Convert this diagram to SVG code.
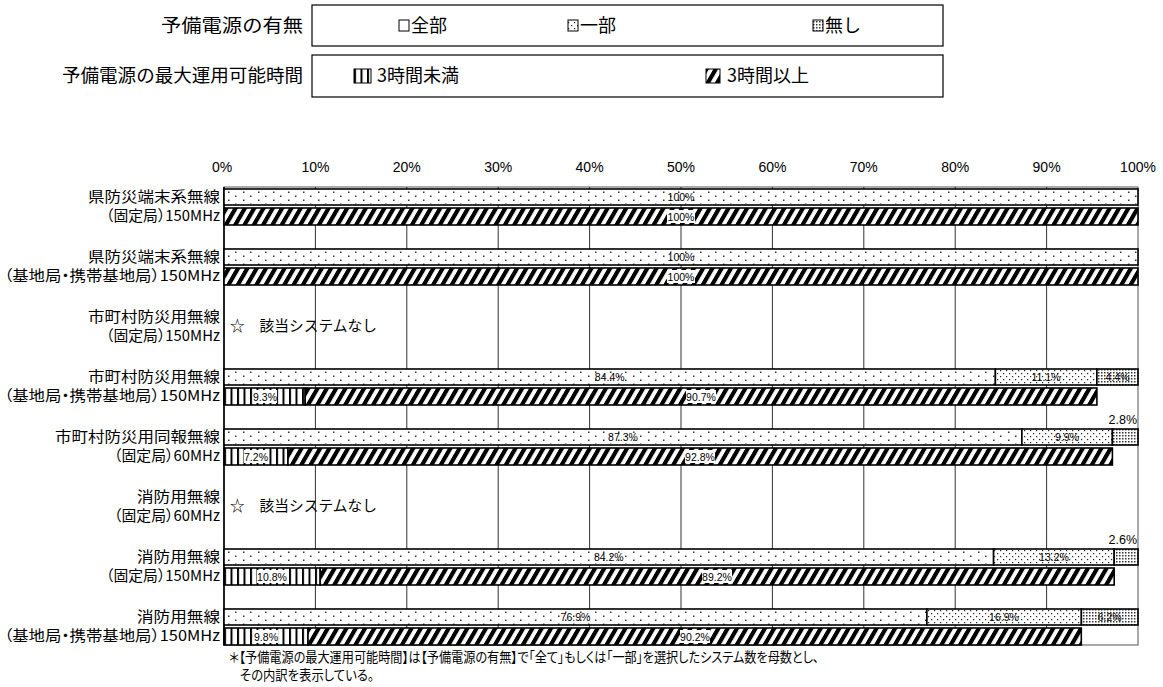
<svg xmlns="http://www.w3.org/2000/svg" width="1163" height="687" viewBox="0 0 1163 687">
<style>
.lbl{font-family:"Noto Sans CJK JP","Liberation Sans",sans-serif;font-size:15px;text-anchor:end;fill:#000;font-feature-settings:"palt"}
.leg{font-family:"Noto Sans CJK JP","Liberation Sans",sans-serif;font-size:18px;fill:#000}
.ax{font-family:"Liberation Sans","Noto Sans CJK JP",sans-serif;font-size:14px;text-anchor:middle;fill:#000}
.pct{font-family:"Liberation Sans",sans-serif;font-size:10.5px;text-anchor:middle;fill:#000}
.out{font-family:"Liberation Sans",sans-serif;font-size:12.5px;text-anchor:end;fill:#000}
.note{font-family:"Noto Sans CJK JP","Liberation Sans",sans-serif;font-size:14px;fill:#000;font-feature-settings:"palt"}
.na{font-family:"Noto Sans CJK JP","Liberation Sans",sans-serif;font-size:15px;fill:#000}
.bar{stroke:#000;stroke-width:1.6}
.grid{stroke:#333;stroke-width:1}
.box{fill:#fff;stroke:#000;stroke-width:1.2}
.bg{fill:#fff}
</style>
<defs>
<pattern id="pAll" patternUnits="userSpaceOnUse" x="0" y="189" width="15" height="8">
<rect width="15" height="8" fill="#fff"/>
<rect x="3" y="2.5" width="1.5" height="1.5" fill="#333"/>
</pattern>
<pattern id="pAll2" patternUnits="userSpaceOnUse" x="7" y="193" width="15" height="8">
<rect x="3" y="2.5" width="1.5" height="1.5" fill="#333"/>
</pattern>
<pattern id="pPart" patternUnits="userSpaceOnUse" width="6" height="6">
<rect width="6" height="6" fill="#fff"/>
<rect x="1" y="1" width="1.2" height="1.2" fill="#222"/>
<rect x="4" y="4" width="1.2" height="1.2" fill="#222"/>
</pattern>
<pattern id="pNone" patternUnits="userSpaceOnUse" width="3" height="3">
<rect width="3" height="3" fill="#fff"/>
<rect x="0" y="0" width="1.5" height="1.5" fill="#333"/>
</pattern>
<pattern id="pUnder" patternUnits="userSpaceOnUse" x="224" width="6.5" height="10">
<rect width="6.5" height="10" fill="#fff"/>
<rect x="0" width="2" height="10" fill="#000"/>
</pattern>
<pattern id="pOver" patternUnits="userSpaceOnUse" width="9.3" height="10" patternTransform="skewX(-30)">
<rect width="9.3" height="10" fill="#fff"/>
<rect x="0" width="4.8" height="10" fill="#000"/>
</pattern>
</defs>

<g id="legend">
<text class="leg" x="303" y="32" text-anchor="end" textLength="142" lengthAdjust="spacingAndGlyphs">予備電源の有無</text>
<rect class="box" x="312" y="5" width="631" height="41"/>
<rect x="399" y="20" width="10" height="11" fill="#fff" stroke="#000" stroke-width="1"/>
<text class="leg" x="411" y="32">全部</text>
<rect x="568" y="20" width="10" height="11" fill="url(#pPart)" stroke="#000" stroke-width="1"/>
<text class="leg" x="580" y="32">一部</text>
<rect x="813" y="20" width="10" height="11" fill="url(#pNone)" stroke="#000" stroke-width="1"/>
<text class="leg" x="825" y="32">無し</text>
<text class="leg" x="303" y="82" text-anchor="end" textLength="241" lengthAdjust="spacingAndGlyphs">予備電源の最大運用可能時間</text>
<rect class="box" x="312" y="55" width="631" height="42"/>
<rect x="354" y="69" width="17" height="14" fill="url(#pUnder)" stroke="#000" stroke-width="1"/>
<text class="leg" x="377" y="82">3時間未満</text>
<rect x="706" y="69" width="14" height="14" fill="url(#pOver)" stroke="#000" stroke-width="1"/>
<text class="leg" x="727" y="82">3時間以上</text>
</g>

<g id="axis">
<text class="ax" x="222" y="172">0%</text>
<text class="ax" x="315.4" y="172">10%</text>
<text class="ax" x="406.8" y="172">20%</text>
<text class="ax" x="498.2" y="172">30%</text>
<text class="ax" x="589.6" y="172">40%</text>
<text class="ax" x="681" y="172">50%</text>
<text class="ax" x="772.4" y="172">60%</text>
<text class="ax" x="863.8" y="172">70%</text>
<text class="ax" x="955.2" y="172">80%</text>
<text class="ax" x="1046.6" y="172">90%</text>
<text class="ax" x="1138" y="172">100%</text>
<rect x="224" y="187" width="914" height="458" fill="#fff" stroke="#555" stroke-width="1"/>
<g class="grid">
<line x1="315.4" y1="187" x2="315.4" y2="645"/>
<line x1="406.8" y1="187" x2="406.8" y2="645"/>
<line x1="498.2" y1="187" x2="498.2" y2="645"/>
<line x1="589.6" y1="187" x2="589.6" y2="645"/>
<line x1="681" y1="187" x2="681" y2="645"/>
<line x1="772.4" y1="187" x2="772.4" y2="645"/>
<line x1="863.8" y1="187" x2="863.8" y2="645"/>
<line x1="955.2" y1="187" x2="955.2" y2="645"/>
<line x1="1046.6" y1="187" x2="1046.6" y2="645"/>
</g>
<line x1="224" y1="187" x2="224" y2="645" stroke="#000" stroke-width="1.6"/>
</g>

<g id="row1">
<text class="lbl" x="220" y="202" textLength="132" lengthAdjust="spacingAndGlyphs">県防災端末系無線</text>
<text class="lbl" x="220" y="221" textLength="114" lengthAdjust="spacingAndGlyphs">（固定局）150MHz</text>
<rect class="bar" x="224" y="189" width="914" height="16" fill="url(#pAll)"/>
<rect x="224" y="189" width="914" height="16" fill="url(#pAll2)"/>
<text class="pct" x="681" y="201">100%</text>
<rect class="bar" x="224" y="208" width="914" height="17" fill="url(#pOver)"/>
<rect class="bg" x="667" y="210" width="28" height="13"/>
<text class="pct" x="681" y="220.5">100%</text>
</g>

<g id="row2">
<text class="lbl" x="220" y="262" textLength="132" lengthAdjust="spacingAndGlyphs">県防災端末系無線</text>
<text class="lbl" x="220" y="281" textLength="216" lengthAdjust="spacingAndGlyphs">（基地局・携帯基地局）150MHz</text>
<rect class="bar" x="224" y="249" width="914" height="16" fill="url(#pAll)"/>
<rect x="224" y="249" width="914" height="16" fill="url(#pAll2)"/>
<text class="pct" x="681" y="261">100%</text>
<rect class="bar" x="224" y="268" width="914" height="17" fill="url(#pOver)"/>
<rect class="bg" x="667" y="270" width="28" height="13"/>
<text class="pct" x="681" y="280.5">100%</text>
</g>

<g id="row3">
<text class="lbl" x="220" y="322" textLength="132" lengthAdjust="spacingAndGlyphs">市町村防災用無線</text>
<text class="lbl" x="220" y="341" textLength="114" lengthAdjust="spacingAndGlyphs">（固定局）150MHz</text>
<text class="na" x="230" y="331" textLength="147" lengthAdjust="spacingAndGlyphs">☆　該当システムなし</text>
</g>

<g id="row4">
<text class="lbl" x="220" y="382" textLength="132" lengthAdjust="spacingAndGlyphs">市町村防災用無線</text>
<text class="lbl" x="220" y="401" textLength="216" lengthAdjust="spacingAndGlyphs">（基地局・携帯基地局）150MHz</text>
<rect class="bar" x="224" y="369" width="771.4" height="16" fill="url(#pAll)"/>
<rect x="224" y="369" width="771.4" height="16" fill="url(#pAll2)"/>
<rect class="bar" x="995.4" y="369" width="101.5" height="16" fill="url(#pPart)"/>
<rect class="bar" x="1096.9" y="369" width="41.1" height="16" fill="url(#pNone)"/>
<text class="pct" x="609.7" y="381">84.4%</text>
<text class="pct" x="1046" y="381">11.1%</text>
<text class="pct" x="1117.5" y="381">4.4%</text>
<rect class="bar" x="224" y="388" width="81.2" height="17" fill="url(#pUnder)"/>
<rect class="bar" x="305.2" y="388" width="791.7" height="17" fill="url(#pOver)"/>
<rect class="bg" x="253" y="390" width="24" height="13"/>
<text class="pct" x="265" y="400.5">9.3%</text>
<rect class="bg" x="686" y="390" width="30" height="13"/>
<text class="pct" x="701" y="400.5">90.7%</text>
</g>

<g id="row5">
<text class="lbl" x="220" y="442" textLength="165" lengthAdjust="spacingAndGlyphs">市町村防災用同報無線</text>
<text class="lbl" x="220" y="461" textLength="106" lengthAdjust="spacingAndGlyphs">（固定局）60MHz</text>
<text class="out" x="1137" y="424">2.8%</text>
<rect class="bar" x="224" y="429" width="797.9" height="16" fill="url(#pAll)"/>
<rect x="224" y="429" width="797.9" height="16" fill="url(#pAll2)"/>
<rect class="bar" x="1021.9" y="429" width="90.5" height="16" fill="url(#pPart)"/>
<rect class="bar" x="1112.4" y="429" width="25.6" height="16" fill="url(#pNone)"/>
<text class="pct" x="623" y="441">87.3%</text>
<text class="pct" x="1067" y="441">9.9%</text>
<rect class="bar" x="224" y="448" width="64" height="17" fill="url(#pUnder)"/>
<rect class="bar" x="288" y="448" width="824.4" height="17" fill="url(#pOver)"/>
<rect class="bg" x="244" y="450" width="24" height="13"/>
<text class="pct" x="256" y="460.5">7.2%</text>
<rect class="bg" x="685" y="450" width="30" height="13"/>
<text class="pct" x="700" y="460.5">92.8%</text>
</g>

<g id="row6">
<text class="lbl" x="220" y="502" textLength="83" lengthAdjust="spacingAndGlyphs">消防用無線</text>
<text class="lbl" x="220" y="521" textLength="106" lengthAdjust="spacingAndGlyphs">（固定局）60MHz</text>
<text class="na" x="230" y="511" textLength="147" lengthAdjust="spacingAndGlyphs">☆　該当システムなし</text>
</g>

<g id="row7">
<text class="lbl" x="220" y="562" textLength="83" lengthAdjust="spacingAndGlyphs">消防用無線</text>
<text class="lbl" x="220" y="581" textLength="114" lengthAdjust="spacingAndGlyphs">（固定局）150MHz</text>
<text class="out" x="1137" y="544">2.6%</text>
<rect class="bar" x="224" y="549" width="769.6" height="16" fill="url(#pAll)"/>
<rect x="224" y="549" width="769.6" height="16" fill="url(#pAll2)"/>
<rect class="bar" x="993.6" y="549" width="120.6" height="16" fill="url(#pPart)"/>
<rect class="bar" x="1114.2" y="549" width="23.8" height="16" fill="url(#pNone)"/>
<text class="pct" x="608.8" y="561">84.2%</text>
<text class="pct" x="1054" y="561">13.2%</text>
<rect class="bar" x="224" y="568" width="96.2" height="17" fill="url(#pUnder)"/>
<rect class="bar" x="320.2" y="568" width="794" height="17" fill="url(#pOver)"/>
<rect class="bg" x="257" y="570" width="30" height="13"/>
<text class="pct" x="272" y="580.5">10.8%</text>
<rect class="bg" x="702" y="570" width="30" height="13"/>
<text class="pct" x="717" y="580.5">89.2%</text>
</g>

<g id="row8">
<text class="lbl" x="220" y="622" textLength="83" lengthAdjust="spacingAndGlyphs">消防用無線</text>
<text class="lbl" x="220" y="641" textLength="216" lengthAdjust="spacingAndGlyphs">（基地局・携帯基地局）150MHz</text>
<rect class="bar" x="224" y="609" width="702.9" height="16" fill="url(#pAll)"/>
<rect x="224" y="609" width="702.9" height="16" fill="url(#pAll2)"/>
<rect class="bar" x="926.9" y="609" width="154.5" height="16" fill="url(#pPart)"/>
<rect class="bar" x="1081.4" y="609" width="56.6" height="16" fill="url(#pNone)"/>
<text class="pct" x="575.5" y="621">76.9%</text>
<text class="pct" x="1004" y="621">16.9%</text>
<text class="pct" x="1109.7" y="621">6.2%</text>
<rect class="bar" x="224" y="628" width="84" height="17" fill="url(#pUnder)"/>
<rect class="bar" x="308" y="628" width="773.3" height="17" fill="url(#pOver)"/>
<rect class="bg" x="254" y="630" width="24" height="13"/>
<text class="pct" x="266" y="640.5">9.8%</text>
<rect class="bg" x="680" y="630" width="30" height="13"/>
<text class="pct" x="695" y="640.5">90.2%</text>
</g>

<g id="footnote">
<text class="note" x="229" y="662" textLength="590" lengthAdjust="spacingAndGlyphs">＊【予備電源の最大運用可能時間】は【予備電源の有無】で「全て」もしくは「一部」を選択したシステム数を母数とし、</text>
<text class="note" x="240" y="680" textLength="134" lengthAdjust="spacingAndGlyphs">その内訳を表示している。</text>
</g>
</svg>
